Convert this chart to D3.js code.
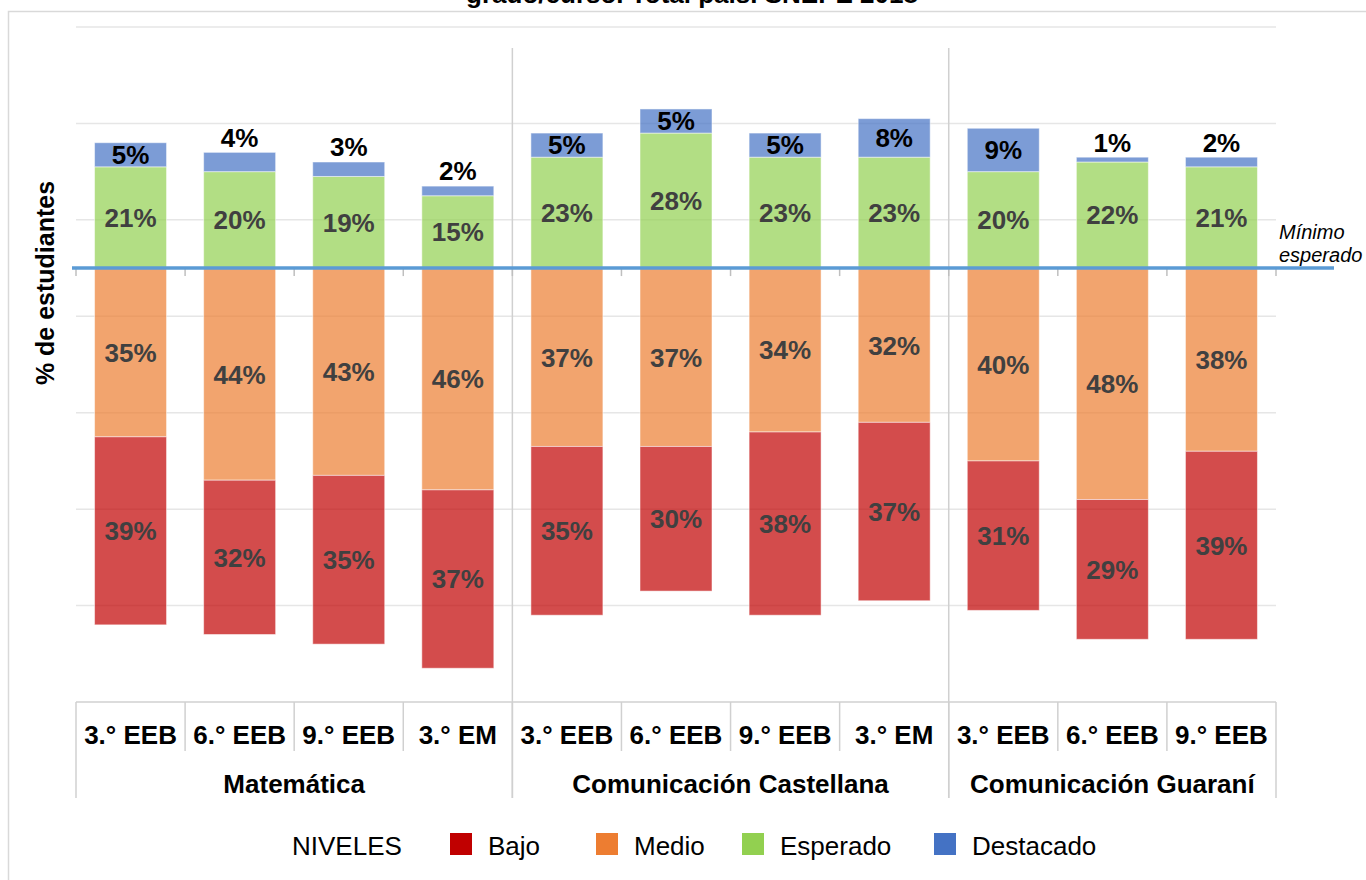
<!DOCTYPE html>
<html>
<head>
<meta charset="utf-8">
<script src="https://cdn.jsdelivr.net/npm/d3@7"></script>
<style>
  body { margin: 0; background: #fff; }
  svg { display: block; font-family: "Liberation Sans", Arial, sans-serif; }
</style>
</head>
<body>
<svg id="svg" width="1366" height="880"></svg>
<script>
// data (% of students per level)
var categories = ["3.° EEB", "6.° EEB", "9.° EEB", "3.° EM",
                  "3.° EEB", "6.° EEB", "9.° EEB", "3.° EM",
                  "3.° EEB", "6.° EEB", "9.° EEB"];
var areas = ["Matemática", "Comunicación Castellana", "Comunicación Guaraní"];
var areaSize = [4, 4, 3];
var bajo      = [39, 32, 35, 37, 35, 30, 38, 37, 31, 29, 39];
var medio     = [35, 44, 43, 46, 37, 37, 34, 32, 40, 48, 38];
var esperado  = [21, 20, 19, 15, 23, 28, 23, 23, 20, 22, 21];
var destacado = [5, 4, 3, 2, 5, 5, 5, 8, 9, 1, 2];
var levels = ["Bajo", "Medio", "Esperado", "Destacado"];
var levelColors = ["#C00000", "#ED7D31", "#92D050", "#4472C4"];
var gridValues = [50, 30, 10, -10, -30, -50, -70];

window.onload = function() {
    var svg = d3.select("#svg");
    var left = 76, right = 1276;

    var x = d3.scaleBand()
        .domain(d3.range(categories.length))
        .range([left, right])
        .paddingInner(0.34)
        .paddingOuter(0.17);

    var y = d3.scaleLinear()
        .domain([-90, 50])
        .range([702, 27]);

    var color = d3.scaleOrdinal().domain(levels).range(levelColors);

    // outer frame + cut title
    svg.append("rect")
        .attr("x", 8.5).attr("y", 11.5)
        .attr("width", 1450).attr("height", 950)
        .attr("fill", "none").attr("stroke", "#D9D9D9").attr("stroke-width", 1.5);

    svg.append("text")
        .attr("x", 692).attr("y", 3)
        .attr("text-anchor", "middle")
        .attr("font-size", 26).attr("font-weight", "bold")
        .text("grado/curso. Total país. SNEPE 2018");

    // gridlines
    svg.selectAll(".grid")
        .data(gridValues)
        .enter().append("line")
        .attr("class", "grid")
        .attr("x1", left).attr("x2", right)
        .attr("y1", function(d) { return y(d); })
        .attr("y2", function(d) { return y(d); })
        .attr("stroke", "#E6E6E6").attr("stroke-width", 1.5);

    // area separators through the plot
    var bounds = [0];
    areaSize.forEach(function(n, i) { bounds.push(bounds[i] + n); });
    var step = x.step();

    svg.selectAll(".sep")
        .data(bounds.slice(1, -1))
        .enter().append("line")
        .attr("x1", function(d) { return left + d * step; })
        .attr("x2", function(d) { return left + d * step; })
        .attr("y1", 48).attr("y2", 798)
        .attr("stroke", "#D0D0D0").attr("stroke-width", 1.5);

    // segments
    var segs = [];
    categories.forEach(function(c, i) {
        segs.push({ i: i, level: "Medio", v: medio[i], y0: 0, y1: -medio[i] });
        segs.push({ i: i, level: "Bajo", v: bajo[i], y0: -medio[i], y1: -medio[i] - bajo[i] });
        segs.push({ i: i, level: "Esperado", v: esperado[i], y0: 0, y1: esperado[i] });
        segs.push({ i: i, level: "Destacado", v: destacado[i], y0: esperado[i], y1: esperado[i] + destacado[i] });
    });

    svg.selectAll(".bar")
        .data(segs)
        .enter().append("rect")
        .attr("class", "bar")
        .attr("x", function(d) { return x(d.i); })
        .attr("width", x.bandwidth())
        .attr("y", function(d) { return Math.min(y(d.y0), y(d.y1)); })
        .attr("height", function(d) { return Math.abs(y(d.y0) - y(d.y1)); })
        .attr("fill", function(d) { return color(d.level); })
        .attr("fill-opacity", 0.7)
        .attr("stroke", "#fff").attr("stroke-opacity", 0.5).attr("stroke-width", 1);

    // bottom axis line and baseline ticks
    svg.append("line")
        .attr("x1", left).attr("x2", right)
        .attr("y1", y(-90)).attr("y2", y(-90))
        .attr("stroke", "#D0D0D0").attr("stroke-width", 1.5);

    svg.selectAll(".tick0")
        .data(d3.range(categories.length + 1))
        .enter().append("line")
        .attr("x1", function(d) { return left + d * step; })
        .attr("x2", function(d) { return left + d * step; })
        .attr("y1", y(0)).attr("y2", y(0) + 8)
        .attr("stroke", "#BFBFBF").attr("stroke-width", 1.5);

    // minimo esperado line
    svg.append("line")
        .attr("x1", 72).attr("x2", 1334)
        .attr("y1", y(0)).attr("y2", y(0))
        .attr("stroke", "#5B9BD5").attr("stroke-width", 3.5);

    svg.append("text")
        .attr("x", 1279).attr("y", 239)
        .attr("font-size", 20).attr("font-style", "italic")
        .text("Mínimo");
    svg.append("text")
        .attr("x", 1279).attr("y", 262)
        .attr("font-size", 20).attr("font-style", "italic")
        .text("esperado");

    // data labels
    svg.selectAll(".lbl")
        .data(segs)
        .enter().append("text")
        .attr("class", "lbl")
        .attr("x", function(d) { return x(d.i) + x.bandwidth() / 2; })
        .attr("y", function(d) {
            if (d.level == "Destacado" && d.v < 5) return y(d.y1) - 15;
            return (y(d.y0) + y(d.y1)) / 2;
        })
        .attr("dy", "0.36em")
        .attr("text-anchor", "middle")
        .attr("font-size", 26).attr("font-weight", "bold")
        .attr("fill", function(d) { return d.level == "Destacado" ? "#000" : "#404040"; })
        .text(function(d) { return d.v + "%"; });

    // category axis (two rows)
    svg.selectAll(".cdiv")
        .data(d3.range(categories.length + 1))
        .enter().append("line")
        .attr("x1", function(d) { return left + d * step; })
        .attr("x2", function(d) { return left + d * step; })
        .attr("y1", y(-90))
        .attr("y2", function(d) { return bounds.indexOf(d) >= 0 ? 798 : 751; })
        .attr("stroke", "#D0D0D0").attr("stroke-width", 1.5);

    svg.selectAll(".cat")
        .data(categories)
        .enter().append("text")
        .attr("x", function(d, i) { return x(i) + x.bandwidth() / 2; })
        .attr("y", 744)
        .attr("text-anchor", "middle")
        .attr("font-size", 26).attr("font-weight", "bold")
        .text(function(d) { return d; });

    svg.selectAll(".area")
        .data(areas)
        .enter().append("text")
        .attr("x", function(d, i) { return left + (bounds[i] + bounds[i + 1]) / 2 * step; })
        .attr("y", 793)
        .attr("text-anchor", "middle")
        .attr("font-size", 26).attr("font-weight", "bold")
        .text(function(d) { return d; });

    // y axis title
    svg.append("text")
        .attr("transform", "translate(54,283) rotate(-90)")
        .attr("text-anchor", "middle")
        .attr("font-size", 25).attr("font-weight", "bold")
        .text("% de estudiantes");

    // legend
    var legendX = [450, 596, 742, 934];
    svg.append("text")
        .attr("x", 292).attr("y", 855)
        .attr("font-size", 26)
        .text("NIVELES");

    var items = svg.selectAll(".leg")
        .data(levels)
        .enter().append("g")
        .attr("transform", function(d, i) { return "translate(" + legendX[i] + ",833)"; });
    items.append("rect")
        .attr("width", 22).attr("height", 22)
        .attr("fill", function(d) { return color(d); });
    items.append("text")
        .attr("x", 38).attr("y", 22)
        .attr("font-size", 26)
        .text(function(d) { return d; });
};
</script>
</body>
</html>
